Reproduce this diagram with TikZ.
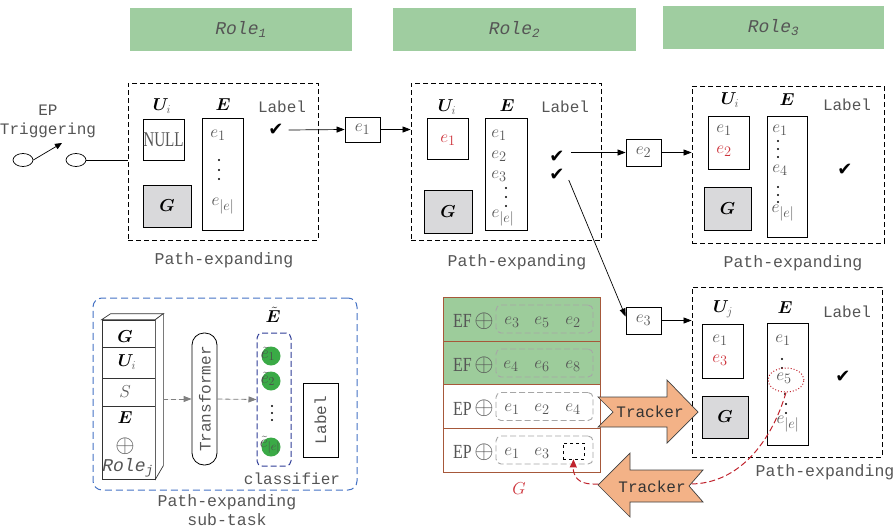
\documentclass[tikz,border=0pt]{standalone}
\usepackage{fontspec}
\usepackage{bm}
\usetikzlibrary{arrows.meta,shapes.geometric,calc}
\newfontfamily\monofam{Liberation Mono}
\newfontfamily\ckfam{DejaVu Sans}
\newfontfamily\serfam{Liberation Serif}
\newcommand\monof{\monofam\fontsize{16}{19}\selectfont}
\newcommand\pef{\monofam\fontsize{16.5}{19}\selectfont}
\newcommand\rolef{\monofam\itshape\fontsize{18}{18}\selectfont}
\newcommand\ckf{\ckfam\fontsize{18}{18}\selectfont}
\definecolor{rolegreen}{RGB}{159,205,160}
\definecolor{rowgreen}{RGB}{157,204,155}
\definecolor{boxgray}{RGB}{217,217,219}
\definecolor{egray}{RGB}{85,85,85}
\definecolor{ered}{RGB}{205,50,58}
\definecolor{brownb}{RGB}{166,88,58}
\definecolor{trk}{RGB}{243,178,135}
\definecolor{blueb}{RGB}{68,114,196}
\definecolor{dblue}{RGB}{46,60,150}
\definecolor{cgreen}{RGB}{58,170,70}
\definecolor{dred}{RGB}{192,35,45}
\begin{document}
\begin{tikzpicture}[x=1pt,y=-1pt,
 bx/.style={draw=black, line width=0.8pt, inner sep=0pt},
 gbx/.style={bx, fill=boxgray, font=\fontsize{17}{17}\selectfont},
 panel/.style={draw=black, dash pattern=on 5pt off 3pt, line width=0.8pt, inner sep=0pt},
 role/.style={fill=rolegreen, inner sep=0pt, text=egray, font=\rolef},
 hd/.style={inner sep=0pt, font=\fontsize{17}{17}\selectfont},
 ee/.style={inner sep=0pt, text=egray, font=\fontsize{19}{19}\selectfont},
 er/.style={ee, text=ered},
 lab/.style={inner sep=0pt, text=egray, font=\monof},
 pex/.style={inner sep=0pt, text=egray, font=\pef},
 ck/.style={inner sep=0pt, font=\ckf},
 arr/.style={-{Triangle[length=8pt,width=6pt]}, line width=0.7pt},
 gdarr/.style={-{Triangle[length=8pt,width=6pt]}, line width=0.8pt, dash pattern=on 5pt off 3pt, draw=gray, fill=gray},
 row/.style={draw=brownb, line width=1pt, inner sep=0pt, minimum width=157pt, minimum height=44pt},
 inbox/.style={draw=gray!70, dash pattern=on 6pt off 3pt, rounded corners=5pt, line width=0.9pt, inner sep=0pt, minimum width=97pt, minimum height=28pt},
 rowtxt/.style={inner sep=0pt, text=egray, font=\serfam\fontsize{20}{20}\selectfont},
 opl/.style={inner sep=0pt, text=egray, font=\fontsize{24}{24}\selectfont},
 trkbody/.style={fill=trk, draw=black!75, line width=0.7pt},
 gcirc/.style={circle, fill=cgreen, minimum size=19pt, inner sep=0pt}
]
\useasboundingbox (0,0) rectangle (896,530);

% Role headers
\node[role, minimum width=222pt, minimum height=43pt] (r1) at (241,29.5) {Role\textsubscript{1}};
\node[role, minimum width=243pt, minimum height=43pt] (r2) at (514.5,29.5) {Role\textsubscript{2}};
\node[role, minimum width=221pt, minimum height=43pt] (r3) at (773.5,27.5) {Role\textsubscript{3}};

% EP triggering
\node[lab, align=center, text=egray] (ept) at (48,121) {EP\\Triggering};
\node[ellipse, draw, line width=0.7pt, minimum width=20pt, minimum height=13pt, inner sep=0pt] (s1) at (23,160) {};
\node[ellipse, draw, line width=0.7pt, minimum width=20pt, minimum height=13pt, inner sep=0pt] (s2) at (76,160) {};
\coordinate (sw) at (62,143);
\draw[-{Triangle[length=7pt,width=6pt]}, line width=0.7pt] (s1.east) -- (sw);

% Panel 1
\node[panel, minimum width=190pt, minimum height=157pt] (p1) at (223,161.5) {};
\draw[line width=0.7pt] (s2.east) -- (s2.east -| p1.west);
\node[hd] (p1U) at (162,106) {$\bm{U}_{\color{egray}i}$};
\node[bx, minimum width=41pt, minimum height=41pt] (p1u) at (163.5,139.5) {\scalebox{0.72}[1]{\serfam\fontsize{21}{21}\selectfont\color{egray}NULL}};
\node[gbx, minimum width=48pt, minimum height=42pt] (p1g) at (167,206) {$\bm{G}$};
\node[hd] (p1E) at (223,105) {$\bm{E}$};
\node[bx, minimum width=41pt, minimum height=112pt] (p1e) at (222.5,174) {};
\node[ee] (p1e1) at (218,135) {$e_1$};
\fill (219,160) circle[radius=1.2pt] (219,170) circle[radius=1.2pt] (219,179) circle[radius=1.2pt];
\node[ee] (p1en) at (223,206) {$e_{|e|}$};
\node[lab] (p1L) at (282,107) {Label};
\node[ck] (p1c) at (276,130) {✔};
\node[pex] (p1p) at (224,260) {Path-expanding};

% e1 box
\node[bx, minimum width=35pt, minimum height=25pt] (b1) at (362.5,129.5) {\color{egray}\fontsize{19}{19}\selectfont$e_1$};
\coordinate (p1cs) at ($(p1c.east)+(5,0)$);
\draw[arr] (p1cs) -- (b1.west);

% Panel 2
\node[panel, minimum width=190pt, minimum height=157pt] (p2) at (506,161.5) {};
\draw[arr] (b1.east) -- (b1.east -| p2.west);
\node[hd] (p2U) at (447,107) {$\bm{U}_{\color{egray}i}$};
\node[bx, minimum width=41pt, minimum height=41pt] (p2u) at (447.5,138.5) {};
\node[er] (p2u1) at (448,140) {$e_1$};
\node[gbx, minimum width=48pt, minimum height=43pt] (p2g) at (448,211.5) {$\bm{G}$};
\node[hd] (p2E) at (507,106) {$\bm{E}$};
\node[bx, minimum width=42pt, minimum height=112pt] (p2e) at (506,174) {};
\node[ee] (p2e1) at (499,135) {$e_1$};
\node[ee] (p2e2) at (499,156) {$e_2$};
\node[ee] (p2e3) at (499,176) {$e_3$};
\fill (506,188) circle[radius=1.2pt] (506,197) circle[radius=1.2pt] (506,206) circle[radius=1.2pt];
\node[ee] (p2en) at (503,218) {$e_{|e|}$};
\node[lab] (p2L) at (565,107) {Label};
\node[ck] (p2c1) at (557,157) {✔};
\node[ck] (p2c2) at (557,175) {✔};
\node[pex] (p2p) at (517,262) {Path-expanding};

% e2 box and panel 3
\node[bx, minimum width=35pt, minimum height=27pt] (b2) at (643.5,152.5) {\color{egray}\fontsize{19}{19}\selectfont$e_2$};
\coordinate (p2cs) at ($(b2.west -| p2c1.east)+(6,0)$);
\draw[arr] (p2cs) -- (b2.west);
\node[panel, minimum width=192pt, minimum height=157pt] (p3) at (788,164.5) {};
\draw[arr] (b2.east) -- (b2.east -| p3.west);
\node[hd] (p3U) at (730,100) {$\bm{U}_{\color{egray}i}$};
\node[bx, minimum width=41pt, minimum height=53pt] (p3u) at (728.5,142.5) {};
\node[ee] (p3u1) at (724,130) {$e_1$};
\node[er] (p3u2) at (724,151) {$e_2$};
\node[gbx, minimum width=47pt, minimum height=43pt] (p3g) at (727.5,208.5) {$\bm{G}$};
\node[hd] (p3E) at (787,100) {$\bm{E}$};
\node[bx, minimum width=40pt, minimum height=121pt] (p3e) at (787,176.5) {};
\node[ee] (p3e1) at (780,130) {$e_1$};
\fill (778,141) circle[radius=1.2pt] (778,149) circle[radius=1.2pt] (778,157) circle[radius=1.2pt];
\node[ee] (p3e4) at (780,170) {$e_4$};
\fill (778,187) circle[radius=1.2pt] (778,195) circle[radius=1.2pt] (778,202) circle[radius=1.2pt];
\node[ee] (p3en) at (783,213) {$e_{|e|}$};
\node[lab] (p3L) at (847,105) {Label};
\node[ck] (p3c) at (845,170) {✔};
\node[pex] (p3p) at (793,263) {Path-expanding};

% e3 box and panel 4
\node[bx, minimum width=35pt, minimum height=27pt] (b3) at (643.5,320.5) {\color{egray}\fontsize{19}{19}\selectfont$e_3$};
\coordinate (p2cs2) at ($(p2c2.east)+(4,5)$);
\draw[arr] (p2cs2) -- ([yshift=4pt]b3.west);
\node[panel, minimum width=190pt, minimum height=170pt] (p4) at (787,372) {};
\draw[arr] (b3.east) -- (b3.east -| p4.west);
\node[hd] (p4U) at (723,309) {$\bm{U}_{\color{egray}j}$};
\node[bx, minimum width=41pt, minimum height=54pt] (p4u) at (722.5,351) {};
\node[ee] (p4u1) at (720,340) {$e_1$};
\node[er] (p4u3) at (720,360) {$e_3$};
\node[gbx, minimum width=46pt, minimum height=42pt] (p4g) at (725,417) {$\bm{G}$};
\node[hd] (p4E) at (785,308) {$\bm{E}$};
\node[bx, minimum width=41pt, minimum height=122pt] (p4e) at (787.5,384) {};
\node[ee] (p4e1) at (783,340) {$e_1$};
\fill (782,359) circle[radius=1.2pt] (782,368) circle[radius=1.2pt];
\node[ee] (p4e5) at (784,378) {$e_5$};
\node[ellipse, draw=dred, dotted, line width=1pt, minimum width=36pt, minimum height=24pt, inner sep=0pt] (ell) at (786,380) {};
\fill (785,394) circle[radius=1.2pt] (786,404) circle[radius=1.2pt] (786,413) circle[radius=1.2pt];
\node[ee] (p4en) at (788,424) {$e_{|e|}$};
\node[lab] (p4L) at (847,312) {Label};
\node[ck] (p4c) at (843,377) {✔};
\node[pex] (p4p) at (825,472) {Path-expanding};

% EF / EP rows
\node[row, fill=rowgreen] (row1) at (521.5,319) {};
\node[row, fill=rowgreen] (row2) at (521.5,363) {};
\node[row, fill=white] (row3) at (521.5,406.5) {};
\node[row, fill=white] (row4) at (521.5,450) {};
\foreach \r/\t in {row1/EF,row2/EF,row3/EP,row4/EP}{
  \node[rowtxt] (\r t) at ($(\r.center)+(-59,2)$) {\scalebox{0.8}[1]{\t}};
  \node[opl] (\r o) at ($(\r.center)+(-37.5,2)$) {$\oplus$};
  \node[inbox] (\r b) at ($(\r.center)+(23,0)$) {};
}
\node[ee] (r1a) at (512,322) {$e_3$};
\node[ee] (r1b) at (542,322) {$e_5$};
\node[ee] (r1c) at (573,322) {$e_2$};
\node[ee] (r2a) at (511,366) {$e_4$};
\node[ee] (r2b) at (542,366) {$e_6$};
\node[ee] (r2c) at (573,366) {$e_8$};
\node[ee] (r3a) at (512,409) {$e_1$};
\node[ee] (r3b) at (542,409) {$e_2$};
\node[ee] (r3c) at (573,409) {$e_4$};
\node[ee] (r4a) at (512,453) {$e_1$};
\node[ee] (r4b) at (542,453) {$e_3$};
\node[draw=black, dashed, line width=0.8pt, inner sep=0pt, minimum width=21pt, minimum height=16pt] (sq) at (573.5,451) {};
\node[inner sep=0pt, text=ered, font=\fontsize{18}{18}\selectfont] (Glab) at (519,489) {$G$};

% red dashed feedback path
\coordinate (rl) at (690,484);
\coordinate (rr) at (593,484);
\draw[dred, dash pattern=on 6pt off 3pt, line width=1pt, -{Triangle[length=8pt,width=7pt]}] (ell.south) .. controls (772,440) and (740,484) .. (rl) -- (rr) .. controls (578,484) and (573,476) .. (sq.south);

% Trackers
\draw[trkbody] (598,397) -- (667,397) -- (667,380) -- (698,412) -- (667,443) -- (667,427) -- (598,427) -- (613,412) -- cycle;
\node[lab, text=black!80] (trk1) at (650,412) {Tracker};
\draw[trkbody] (703,470) -- (630,470) -- (630,453) -- (598,485) -- (630,517) -- (630,502) -- (703,502) -- (689,486) -- cycle;
\node[lab, text=black!80] (trk2) at (652,487) {Tracker};

% Bottom-left sub-task box
\node[draw=blueb, dash pattern=on 7pt off 4pt, line width=1pt, rounded corners=9pt, minimum width=264pt, minimum height=192pt, inner sep=0pt] (sub) at (225,394) {};
% 3D stack
\node[draw=black!80, line width=0.7pt, minimum width=53pt, minimum height=159pt, inner sep=0pt, fill=white] (stk) at (128.5,399.5) {};
\draw[black!80, line width=0.7pt, fill=white] (stk.north west) -- ++(9,-6) -- ++(53,0) -- (stk.north east) -- cycle;
\draw[black!80, line width=0.7pt, fill=white] (stk.north east) -- ++(8,-6) -- ++(0,152) -- (stk.south east) -- cycle;
\draw[black!80, line width=0.7pt] (102,347) -- (155,347) (102,378) -- (155,378) (102,406) -- (155,406);
\node[hd] (sG) at (125,337) {$\bm{G}$};
\node[hd] (sU) at (127,362) {$\bm{U}_{\color{egray}i}$};
\node[ee] (sS) at (125,392) {$S$};
\node[hd] (sE) at (125,418) {$\bm{E}$};
\node[opl] (sO) at (125,446) {$\oplus$};
\node[inner sep=0pt, text=egray, font=\rolef] (sR) at (128,468) {Role\textsubscript{j}};
% transformer
\node[draw=black, line width=0.8pt, rounded corners=12pt, minimum width=25pt, minimum height=132pt, inner sep=0pt] (tf) at (204.5,399) {};
\node[lab, rotate=90] (tft) at (205,399) {Transformer};
\coordinate (stkout) at ($(stk.east |- tf.west)+(8,0)$);
\draw[gdarr] (stkout) -- (tf.west);
% E tilde
\node[draw=dblue, dash pattern=on 6pt off 3pt, line width=1pt, rounded corners=5pt, minimum width=34pt, minimum height=133pt, inner sep=0pt] (et) at (274,399.5) {};
\draw[gdarr] (tf.east) -- (et.west);
\node[hd] (etl) at (273,315) {$\tilde{\bm{E}}$};
\node[gcirc] (c1) at (271,356) {};
\node[gcirc] (c2) at (271,381) {};
\node[gcirc] (c3) at (271,447) {};
\node[ee, text=black!70, font=\fontsize{17}{17}\selectfont] (c1t) at (268,354) {$\tilde e_1$};
\node[ee, text=black!70, font=\fontsize{17}{17}\selectfont] (c2t) at (268,379) {$\tilde e_2$};
\node[ee, text=black!70, font=\fontsize{17}{17}\selectfont] (c3t) at (270,445) {$\tilde e_{|e|}$};
\fill (272,406) circle[radius=1.2pt] (272,413) circle[radius=1.2pt] (272,420) circle[radius=1.2pt];
\node[bx, minimum width=35pt, minimum height=74pt] (lb) at (320.5,420) {};
\node[lab, rotate=90] (lbt) at (320.5,420) {Label};
\node[lab] (cls) at (292,479) {classifier};
\node[pex, align=center] (subt) at (227,510) {Path-expanding\\sub-task};
\end{tikzpicture}
\end{document}
